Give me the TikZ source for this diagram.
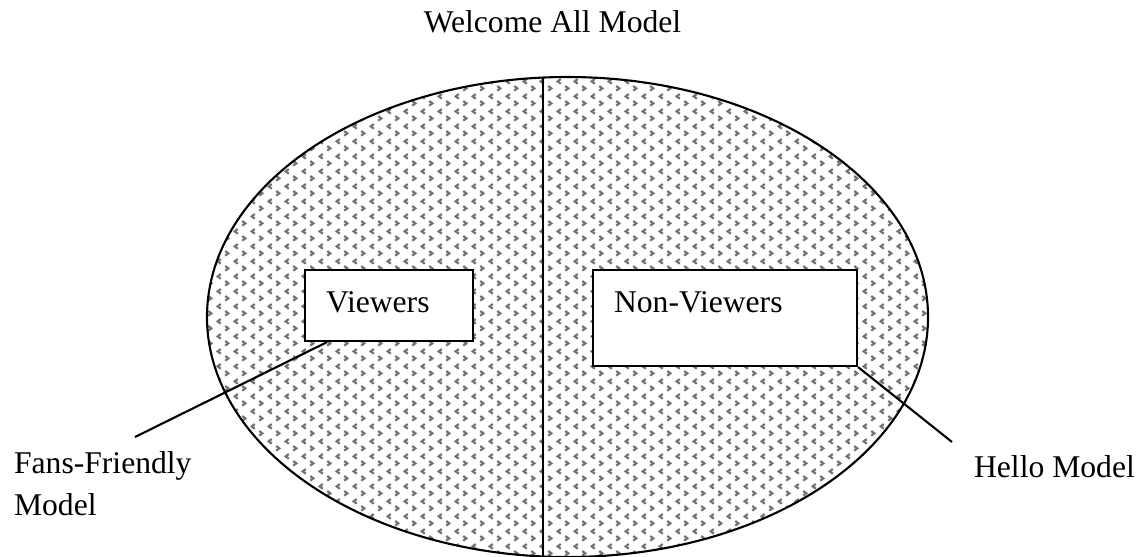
\documentclass[tikz,border=0pt]{standalone}
\usepackage{fontspec}
\setmainfont{Liberation Serif}
\usetikzlibrary{patterns,calc}

\pgfdeclarepatternformonly{chevrons}{\pgfqpoint{0pt}{0pt}}{\pgfqpoint{4.7pt}{4.3pt}}{\pgfqpoint{4.7pt}{4.3pt}}{
  \pgfsetlinewidth{0.65pt}
  % left-pointing mark
  \pgfpathmoveto{\pgfqpoint{1.7pt}{3.9pt}}
  \pgfpathlineto{\pgfqpoint{0.8pt}{3.2pt}}
  \pgfpathlineto{\pgfqpoint{1.7pt}{2.5pt}}
  \pgfusepath{stroke}
  % right-pointing mark
  \pgfpathmoveto{\pgfqpoint{3.0pt}{1.8pt}}
  \pgfpathlineto{\pgfqpoint{3.9pt}{1.1pt}}
  \pgfpathlineto{\pgfqpoint{3.0pt}{0.4pt}}
  \pgfusepath{stroke}
}

\begin{document}
\begin{tikzpicture}[font=\fontsize{9pt}{11.95pt}\selectfont, line width=0.6pt]
    \tikzset{group box/.style={draw, fill=white, anchor=north west, align=left, inner xsep=0.21cm, inner ysep=0pt, text height=0.42cm},
             plain text/.style={inner sep=0pt, align=left}}
    \useasboundingbox (0,0) rectangle (11.47,5.56);
    
    % Title
    \node[plain text, anchor=base] (title) at (5.525, 5.24) {Welcome All Model};
    
    % Audience ellipse, split in two halves
    \draw[pattern=chevrons, pattern color=black!55] (5.675, 2.39) ellipse [x radius=3.605, y radius=2.40];
    \coordinate (splittop) at (5.43, 4.79);
    \coordinate (splitbot) at (5.43, 0);
    \draw (splittop) -- (splitbot);
    
    % Boxes
    \node[group box, text width=1.26cm, text depth=0.29cm] (viewers) at (3.04, 2.87) {Viewers};
    \node[group box, text width=2.22cm, text depth=0.54cm] (nonviewers) at (5.92, 2.87) {Non-Viewers};
    
    % Outside labels (base is the last line)
    \node[plain text, anchor=base west] (fans) at (0.13, 0.41) {Fans-Friendly\\Model};
    \node[plain text, anchor=base west] (hello) at (9.73, 0.79) {Hello Model};
    
    % Leader lines
    \coordinate (fansend) at (1.35, 1.19);
    \coordinate (helloend) at (9.52, 1.14);
    \draw ($(viewers.south west)+(0.23,0)$) -- (fansend);
    \draw (nonviewers.south east) -- (helloend);
  \end{tikzpicture}
\end{document}
